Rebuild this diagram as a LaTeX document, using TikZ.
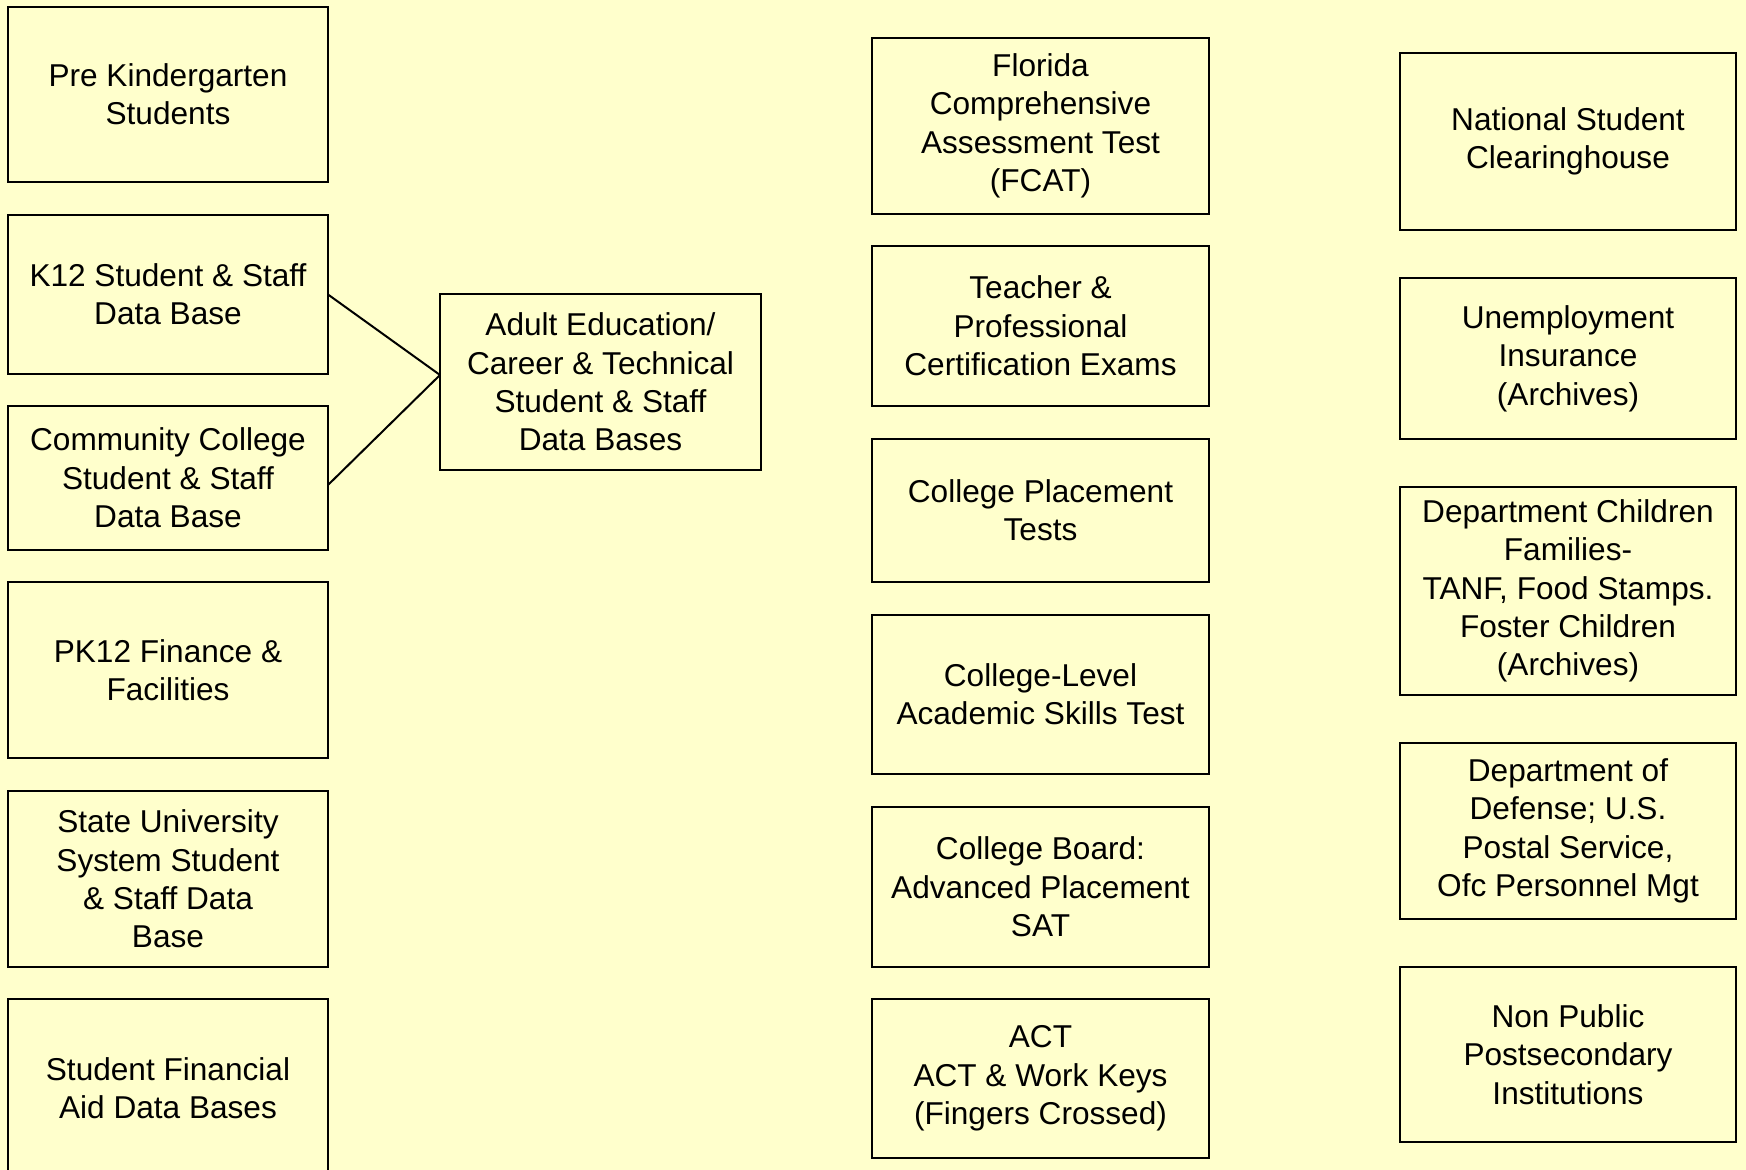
\documentclass[tikz,border=0pt]{standalone}
\usepackage{fontspec}
\setmainfont{Liberation Sans}
\usepackage{tikz}
\definecolor{paleyellow}{RGB}{255,255,204}

\begin{document}
\begin{tikzpicture}[x=0.5pt, y=-0.5pt,
box/.style={rectangle, draw, line width=1pt, inner sep=0pt, outer sep=0pt, align=center,
  font=\fontsize{15.8}{19.2}\selectfont},
leftbox/.style={box, minimum width=160pt},
midbox/.style={box, minimum width=168.5pt},
rightbox/.style={box, minimum width=168pt},
]
\useasboundingbox (0,0) rectangle (1746,1170);
\fill[paleyellow] (0,0) rectangle (1746,1170);
%left column
\node (prek) [leftbox, minimum height=87.5pt] at (168,94.5) {Pre Kindergarten\\Students};
\node (kstaff) [leftbox, minimum height=79.5pt] at (168,294.5) {K12 Student \& Staff\\Data Base};
\node (ccstaff) [leftbox, minimum height=72pt] at (168,478) {Community College\\Student \& Staff\\Data Base};
\node (finance) [leftbox, minimum height=88pt] at (168,670) {PK12 Finance \&\\Facilities};
\node (susstaff) [leftbox, minimum height=88pt] at (168,879) {State University\\System Student\\\& Staff Data\\Base};
\node (finaid) [leftbox, minimum height=89.5pt] at (168,1088.5) {Student Financial\\Aid Data Bases};
%adult education
\node (adulted) [box, minimum width=160.5pt, minimum height=88pt] at (600.5,382) {Adult Education/\\Career \& Technical\\Student \& Staff\\Data Bases};
%middle column
\node (fcat) [midbox, minimum height=88pt] at (1040.5,126) {Florida\\Comprehensive\\Assessment Test\\(FCAT)};
\node (teacher) [midbox, minimum height=80pt] at (1040.5,326) {Teacher \&\\Professional\\Certification Exams};
\node (placement) [midbox, minimum height=71.5pt] at (1040.5,510.5) {College Placement\\Tests};
\node (clast) [midbox, minimum height=79.5pt] at (1040.5,694.5) {College-Level\\Academic Skills Test};
\node (board) [midbox, minimum height=80pt] at (1040.5,887) {College Board:\\Advanced Placement\\SAT};
\node (act) [midbox, minimum height=79.5pt] at (1040.5,1078.5) {ACT\\ACT \& Work Keys\\(Fingers Crossed)};
%right column
\node (clearing) [rightbox, minimum height=88.5pt] at (1568,141.5) {National Student\\Clearinghouse};
\node (unemploy) [rightbox, minimum height=80.5pt] at (1568,358.5) {Unemployment\\Insurance\\(Archives)};
\node (dcf) [rightbox, minimum height=104pt] at (1568,591) {Department Children\\Families-\\TANF, Food Stamps.\\Foster Children\\(Archives)};
\node (defense) [rightbox, minimum height=88pt] at (1568,831) {Department of\\Defense; U.S.\\Postal Service,\\Ofc Personnel Mgt};
\node (nonpublic) [rightbox, minimum height=87.5pt] at (1568,1054.5) {Non Public\\Postsecondary\\Institutions};
%links
\draw [line width=1pt] (kstaff.east)--([yshift=3.5pt]adulted.west);
\draw [line width=1pt] ([yshift=-3.5pt]ccstaff.east)--([yshift=3.5pt]adulted.west);
\end{tikzpicture}
\end{document}
